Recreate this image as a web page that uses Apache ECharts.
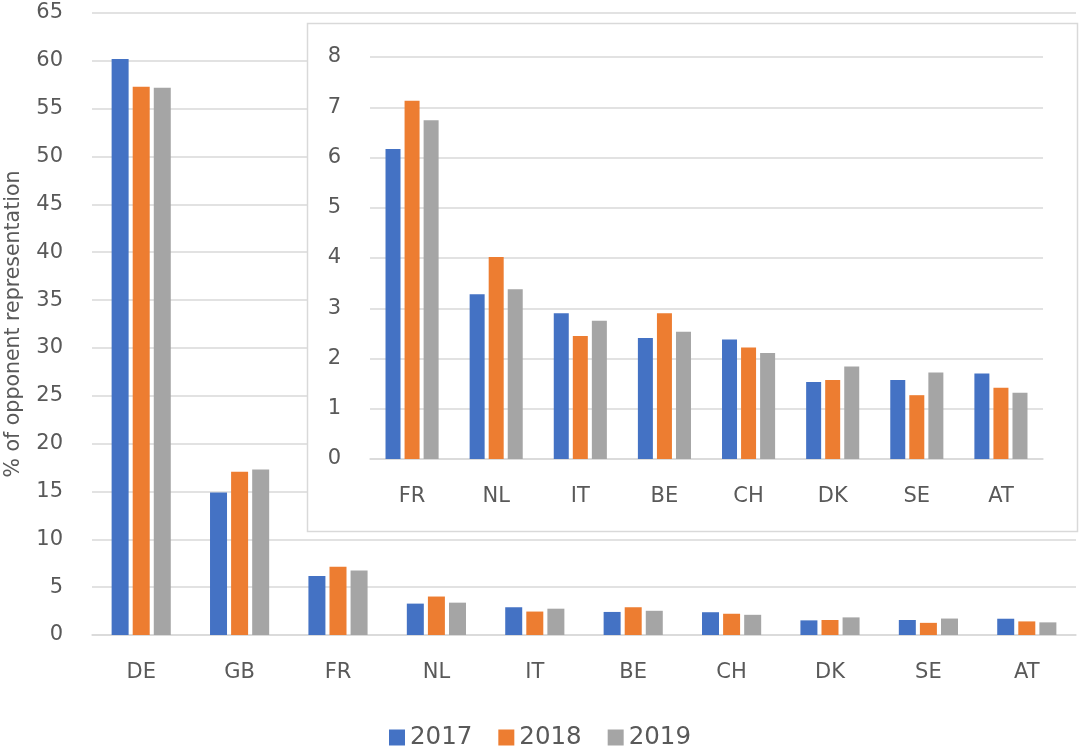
<!DOCTYPE html>
<html>
<head>
<meta charset="utf-8">
<script src="https://cdn.jsdelivr.net/npm/echarts@6/dist/echarts.min.js"></script>
<style>html,body{margin:0;padding:0;background:#fff}#c{width:1080px;height:750px}</style>
</head>
<body>
<div id="c"></div>
<script>
const categories = ['DE','GB','FR','NL','IT','BE','CH','DK','SE','AT'];
const years = ['2017','2018','2019'];
const v2017 = [60.2, 14.9, 6.17, 3.28, 2.90, 2.41, 2.38, 1.53, 1.57, 1.70];
const v2018 = [57.3, 17.05, 7.13, 4.02, 2.45, 2.90, 2.22, 1.57, 1.27, 1.42];
const v2019 = [57.2, 17.3, 6.74, 3.38, 2.75, 2.53, 2.11, 1.84, 1.72, 1.32];
const mainTicks = {min: 0, max: 65, interval: 5};
const insetTicks = {min: 0, max: 8, interval: 1};
const insetStart = 2;

const colors = ['#4472C4', '#ED7D31', '#A5A5A5'];
const txt = '#595959';
const gridCol = '#D9D9D9';
const font = 'DejaVu Sans';
const insetCats = categories.slice(insetStart);
const series = [v2017, v2018, v2019];

const opt = {
  animation: false,
  color: colors,
  textStyle: {fontFamily: font},
  legend: {
    data: years, bottom: -5, left: 'center',
    itemWidth: 16, itemHeight: 16, itemGap: 26,
    icon: 'rect',
    textStyle: {color: txt, fontSize: 24.5, fontFamily: font}
  },
  graphic: [{
    type: 'rect', z: 3,
    shape: {x: 307.5, y: 23.5, width: 770, height: 508},
    style: {fill: '#fff', stroke: gridCol, lineWidth: 1.5}
  }],
  grid: [
    {left: 92, right: 4, top: 13, bottom: 115, containLabel: false, outerBoundsMode: 'none'},
    {left: 370, right: 37, top: 57, bottom: 291, containLabel: false, outerBoundsMode: 'none'}
  ],
  xAxis: [
    {gridIndex: 0, type: 'category', data: categories, z: 0,
     axisLine: {lineStyle: {color: gridCol, width: 1.5}}, axisTick: {show: false},
     axisLabel: {color: txt, fontSize: 21, margin: 27, fontFamily: font}},
    {gridIndex: 1, type: 'category', data: insetCats, z: 5,
     axisLine: {lineStyle: {color: gridCol, width: 1.5}}, axisTick: {show: false},
     axisLabel: {color: txt, fontSize: 21, margin: 27, fontFamily: font}}
  ],
  yAxis: [
    {gridIndex: 0, type: 'value', min: mainTicks.min, max: mainTicks.max, interval: mainTicks.interval, z: 0,
     name: '% of opponent representation', nameLocation: 'middle', nameGap: 68,
     nameTextStyle: {color: txt, fontSize: 20.5, fontFamily: font},
     axisLine: {show: false}, axisTick: {show: false},
     splitLine: {lineStyle: {color: gridCol, width: 1.5}},
     axisLabel: {color: txt, fontSize: 21, margin: 29, fontFamily: font}},
    {gridIndex: 1, type: 'value', min: insetTicks.min, max: insetTicks.max, interval: insetTicks.interval, z: 5,
     axisLine: {show: false}, axisTick: {show: false},
     splitLine: {lineStyle: {color: gridCol, width: 1.5}},
     axisLabel: {color: txt, fontSize: 21, margin: 29, fontFamily: font}}
  ],
  series: []
};
years.forEach((y, i) => {
  opt.series.push({
    name: y, type: 'bar', xAxisIndex: 0, yAxisIndex: 0, data: series[i],
    barWidth: 17, barGap: '24%', z: 2
  });
});
years.forEach((y, i) => {
  opt.series.push({
    name: y, type: 'bar', xAxisIndex: 1, yAxisIndex: 1, data: series[i].slice(insetStart),
    barWidth: 15, barGap: '27%', z: 6
  });
});
const chart = echarts.init(document.getElementById('c'), null, {renderer: 'canvas'});
chart.setOption(opt);
</script>
</body>
</html>
